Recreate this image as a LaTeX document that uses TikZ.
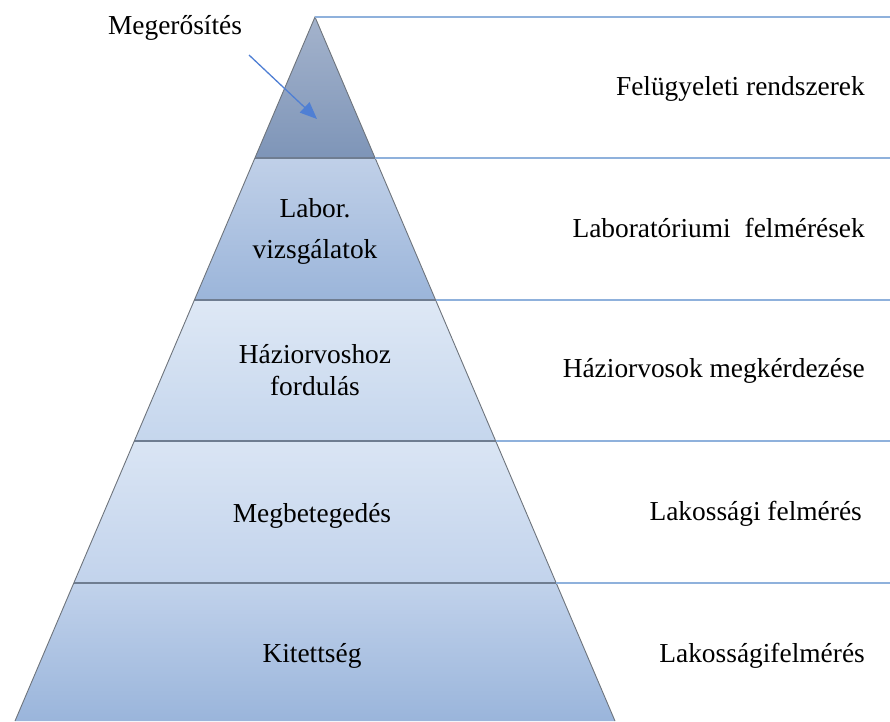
\documentclass[tikz,border=0pt]{standalone}
\usepackage{fontspec}
\setmainfont{Liberation Serif}
\usetikzlibrary{arrows.meta}
\begin{document}
\begin{tikzpicture}[x=1pt,y=-1pt,
  txt/.style={font=\fontsize{27.4}{32}\selectfont, text=black, inner sep=0pt},
  sepline/.style={draw=sepgray, line width=1.6pt},
  rightline/.style={draw=lineblue, line width=1.8pt},
  outline/.style={draw=edgegray, line width=0.9pt},
  callout/.style={draw=arrowblue, line width=1.3pt, -{Triangle[length=17pt,width=14pt]}}]
  \definecolor{sepgray}{HTML}{6F7D91}
  \definecolor{lineblue}{HTML}{8FB1DC}
  \definecolor{edgegray}{HTML}{6E747C}
  \definecolor{arrowblue}{HTML}{4F7FD4}
  \useasboundingbox (0,0) rectangle (890,721);

  % layer corners: apex and edge points at y = 158, 300, 441, 583, 721
  \coordinate (apex) at (315,17);
  \coordinate (l1) at (254.9,158); \coordinate (r1) at (375.1,158);
  \coordinate (l2) at (194.4,300); \coordinate (r2) at (435.6,300);
  \coordinate (l3) at (134.3,441); \coordinate (r3) at (495.7,441);
  \coordinate (l4) at (73.8,583);  \coordinate (r4) at (556.2,583);
  \coordinate (l5) at (15,721);    \coordinate (r5) at (615,721);

  % shaded layers
  \shade[top color={rgb,255:red,164;green,179;blue,204}, bottom color={rgb,255:red,126;green,149;blue,184}]
    (apex) -- (r1) -- (l1) -- cycle;
  \shade[top color={rgb,255:red,192;green,208;blue,232}, bottom color={rgb,255:red,155;green,181;blue,218}]
    (l1) -- (r1) -- (r2) -- (l2) -- cycle;
  \shade[top color={rgb,255:red,222;green,232;blue,245}, bottom color={rgb,255:red,197;green,214;blue,237}]
    (l2) -- (r2) -- (r3) -- (l3) -- cycle;
  \shade[top color={rgb,255:red,218;green,229;blue,244}, bottom color={rgb,255:red,194;green,211;blue,236}]
    (l3) -- (r3) -- (r4) -- (l4) -- cycle;
  \shade[top color={rgb,255:red,193;green,210;blue,235}, bottom color={rgb,255:red,154;green,181;blue,219}]
    (l4) -- (r4) -- (r5) -- (l5) -- cycle;

  % separators inside the pyramid
  \draw[sepline] (l1) -- (r1);
  \draw[sepline] (l2) -- (r2);
  \draw[sepline] (l3) -- (r3);
  \draw[sepline] (l4) -- (r4);

  % outline
  \draw[outline] (l5) -- (apex) -- (r5);

  % guide lines to the right
  \coordinate (e0) at (890,17);
  \coordinate (e1) at (890,158);
  \coordinate (e2) at (890,300);
  \coordinate (e3) at (890,441);
  \coordinate (e4) at (890,583);
  \draw[draw=lineblue, line width=1.2pt] (apex) -- (e0);
  \draw[rightline] (r1) -- (e1);
  \draw[rightline] (r2) -- (e2);
  \draw[rightline] (r3) -- (e3);
  \draw[rightline] (r4) -- (e4);

  % labels inside the pyramid
  \node[txt, align=center] (labor) at (315,231) {Labor.\\[9pt]vizsgálatok};
  \node[txt, align=center] (hazi) at (315,370) {Háziorvoshoz\\fordulás};
  \node[txt, anchor=base] (megbet) at (312,522) {Megbetegedés};
  \node[txt, anchor=base] (kitett) at (312,662) {Kitettség};

  % labels on the right
  \node[txt, anchor=base east] (felug) at (865,95) {Felügyeleti rendszerek};
  \node[txt, anchor=base east] (labfel) at (865,237) {Laboratóriumi\hspace{7pt} felmérések};
  \node[txt, anchor=base east] (hazmeg) at (865,377) {Háziorvosok megkérdezése};
  \node[txt, anchor=base east] (lakfel) at (862,520) {Lakossági felmérés};
  \node[txt, anchor=base east] (lakfel2) at (865,662) {Lakosságifelmérés};

  % callout
  \node[txt, anchor=base] (meger) at (175,34) {Megerősítés};
  \coordinate (arrstart) at (249,55);
  \coordinate (arrend) at (317,119);
  \draw[callout] (arrstart) -- (arrend);
\end{tikzpicture}
\end{document}
